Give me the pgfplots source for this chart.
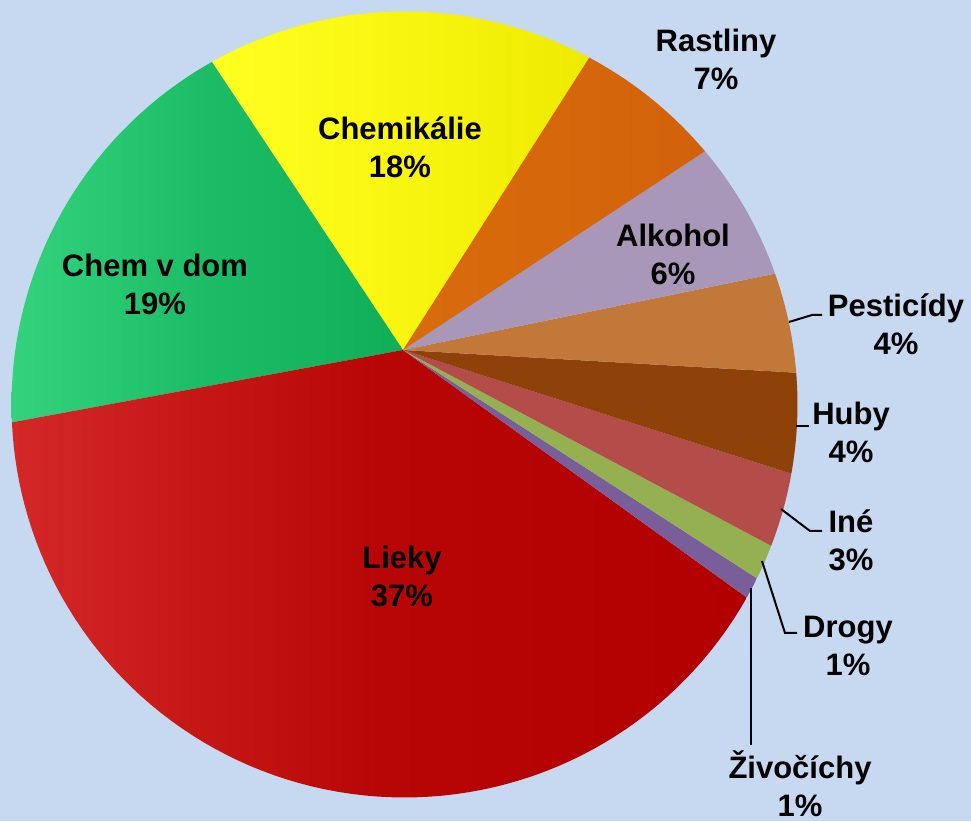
\documentclass[border=0pt]{standalone}
\usepackage{pgfplots}
\usepackage{pgfplotstable}
\pgfplotsset{compat=1.18}
\usepackage{fontspec}
\setmainfont{Liberation Sans}

\definecolor{bg}{HTML}{C6D9F0}
\definecolor{yelL}{HTML}{FFFF20}
\definecolor{yelM}{HTML}{F8F510}
\definecolor{yelR}{HTML}{EEEA00}
\definecolor{grnL}{HTML}{34D27D}
\definecolor{grnM}{HTML}{1CBC66}
\definecolor{grnR}{HTML}{10AE58}
\definecolor{redL}{HTML}{D42828}
\definecolor{redM}{HTML}{B80606}
\definecolor{redR}{HTML}{B20000}
\definecolor{zivo}{HTML}{7A5E9A}
\definecolor{drog}{HTML}{94B050}
\definecolor{ine}{HTML}{B44C4A}
\definecolor{huby}{HTML}{8E420A}
\definecolor{pest}{HTML}{C27838}
\definecolor{alko}{HTML}{A997BA}
\definecolor{rastL}{HTML}{D86C0C}
\definecolor{rastM}{HTML}{D6670B}
\definecolor{rastR}{HTML}{D2620A}

\tikzset{
  lab/.style={font=\bfseries\fontsize{15.5}{19}\selectfont, align=center, text=black},
  lead/.style={black, line width=1pt},
}

% shares in %, counter-clockwise from the right edge of Chemikalie
\pgfplotstableread[col sep=comma]{
name,value,lcol,mcol,rcol
Chemikalie,18.35,yelL,yelM,yelR
ChemVDom,18.59,grnL,grnM,grnR
Lieky,37.16,redL,redM,redR
Zivocichy,0.81,zivo,zivo,zivo
Drogy,1.34,drog,drog,drog
Ine,2.87,ine,ine,ine
Huby,3.99,huby,huby,huby
Pesticidy,4.14,pest,pest,pest
Alkohol,6.04,alko,alko,alko
Rastliny,6.71,rastL,rastM,rastR
}\piedata

\begin{document}
\begin{tikzpicture}
\fill[bg] (0,0) rectangle (485.5pt,410.5pt);
\begin{axis}[
  width=485.5pt, height=410.5pt, scale only axis,
  xmin=0, xmax=971, ymin=0, ymax=821,
  hide axis, clip=false,
  declare function={du(\t)=-1.5*cos(\t)+54.5*sin(\t);
                    rr(\t)=-du(\t)+sqrt(du(\t)^2+151476.5);},
]
\pgfmathsetmacro\startang{57.5}
\pgfplotsforeachungrouped \i in {0,...,9} {
  \pgfplotstablegetelem{\i}{value}\of\piedata \let\val\pgfplotsretval
  \pgfplotstablegetelem{\i}{lcol}\of\piedata \let\lc\pgfplotsretval
  \pgfplotstablegetelem{\i}{mcol}\of\piedata \let\mc\pgfplotsretval
  \pgfplotstablegetelem{\i}{rcol}\of\piedata \let\rc\pgfplotsretval
  \pgfmathsetmacro\endang{\startang+3.6*\val}
  \edef\doplot{\noexpand\addplot[draw=none, left color=\lc, right color=\rc, middle color=\mc,
      domain=\startang:\endang, samples=80, variable=\noexpand\t]
      ({403+rr(\noexpand\t)*cos(\noexpand\t)},{471+rr(\noexpand\t)*sin(\noexpand\t)})
      -- (axis cs:403,471) -- cycle;}
  \doplot
  \global\let\startang\endang
}

% leader lines
\draw[lead] (axis cs:789,499) -- (axis cs:812,506) -- (axis cs:822,506);
\draw[lead] (axis cs:796,395) -- (axis cs:809,395);
\draw[lead] (axis cs:781,312) -- (axis cs:810,290) -- (axis cs:822,290);
\draw[lead] (axis cs:762,260) -- (axis cs:785,188) -- (axis cs:797,188);
\draw[lead] (axis cs:751,233) -- (axis cs:751,76);

% labels
\node[lab] at (axis cs:400,674) {Chemikálie\\18\%};
\node[lab] at (axis cs:155,537) {Chem v dom\\19\%};
\node[lab] at (axis cs:402,244.5) {Lieky\\37\%};
\node[lab] at (axis cs:716,762) {Rastliny\\7\%};
\node[lab] at (axis cs:673,567) {Alkohol\\6\%};
\node[lab] at (axis cs:896,496.5) {Pesticídy\\4\%};
\node[lab] at (axis cs:851,388.5) {Huby\\4\%};
\node[lab] at (axis cs:851,281) {Iné\\3\%};
\node[lab] at (axis cs:848,175.5) {Drogy\\1\%};
\node[lab] at (axis cs:800,37) {Živočíchy\\1\%};
\end{axis}
\pgfresetboundingbox
\path (0,0) rectangle (485.5pt,410.5pt);
\end{tikzpicture}
\end{document}
